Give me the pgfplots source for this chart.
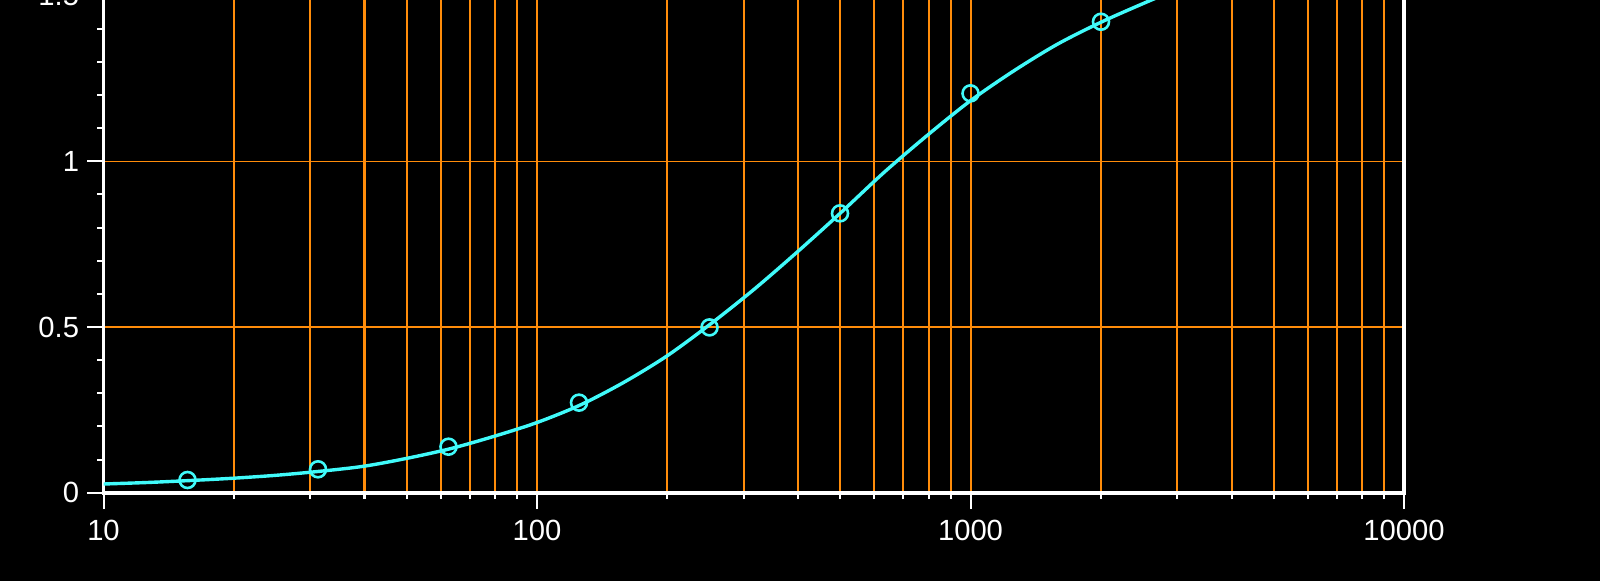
\documentclass[border=0pt]{standalone}
\usepackage{pgfplots}
\pgfplotsset{compat=1.18}
\usepackage{fontspec}
\setmainfont{Liberation Sans}
\definecolor{gridorange}{RGB}{255,140,10}
\definecolor{curvecyan}{RGB}{64,250,250}
\begin{document}
\begin{tikzpicture}
\fill[black] (-51.75pt,-44.1pt) rectangle (748.25pt,246.4pt);
\useasboundingbox (-51.75pt,-44.1pt) rectangle (748.25pt,246.4pt);
\clip (-51.75pt,-44.1pt) rectangle (748.25pt,246.4pt);
\begin{axis}[
  at={(0pt,0pt)}, anchor=south west,
  xmode=log,
  scale only axis,
  width=650.25pt, height=248.6pt,
  xmin=10, xmax=10000,
  ymin=0, ymax=1.5,
  axis line style={white, line width=1.8pt},
  xtick={10,100,1000,10000},
  xticklabels={10,100,1000,10000},
  minor xtick={20,30,40,50,60,70,80,90,200,300,400,500,600,700,800,900,2000,3000,4000,5000,6000,7000,8000,9000},
  ytick={0,0.5,1,1.5},
  yticklabels={0,0.5,1,1.5},
  minor ytick={0.1,0.2,0.3,0.4,0.6,0.7,0.8,0.9,1.1,1.2,1.3,1.4},
  xtick pos=bottom, ytick pos=left,
  tick align=outside,
  major tick length=8.2pt,
  minor tick length=3.2pt,
  tick style={white, line width=1pt},
  xminorgrids=true, xmajorgrids=true, ymajorgrids=true,
  grid style={gridorange, line width=1pt},
  major grid style={gridorange, line width=1pt},
  minor grid style={gridorange, line width=1pt},
  y grid style={gridorange, line width=0.7pt},
  ticklabel style={white, font=\fontsize{14.6}{17}\selectfont},
  /pgf/number format/assume math mode=true,
  xticklabel style={yshift=-2pt},
  yticklabel style={xshift=-0.5pt},
]
\addplot[curvecyan, line width=1.7pt, smooth, no marks] coordinates {
(10,0.0265) (12.589,0.031) (15.849,0.037) (19.953,0.044) (25.119,0.053) (31.623,0.065)
(39.811,0.080) (50.119,0.104) (63.096,0.133) (79.433,0.170) (100,0.212) (125.89,0.265)
(158.49,0.333) (199.53,0.413) (251.19,0.509) (316.23,0.613) (398.11,0.726) (501.19,0.844)
(630.96,0.966) (794.33,1.078) (1000,1.183) (1258.9,1.273) (1584.9,1.353) (1995.3,1.419)
(2511.9,1.477) (3162.3,1.532)
};
\addplot[curvecyan, only marks, mark=o, mark size=4pt, mark options={line width=1.3pt}] coordinates {
(15.625,0.0386) (31.25,0.0709) (62.5,0.139) (125,0.272) (250,0.499) (500,0.843) (1000,1.205) (2000,1.421)
};
\end{axis}
\end{tikzpicture}
\end{document}
